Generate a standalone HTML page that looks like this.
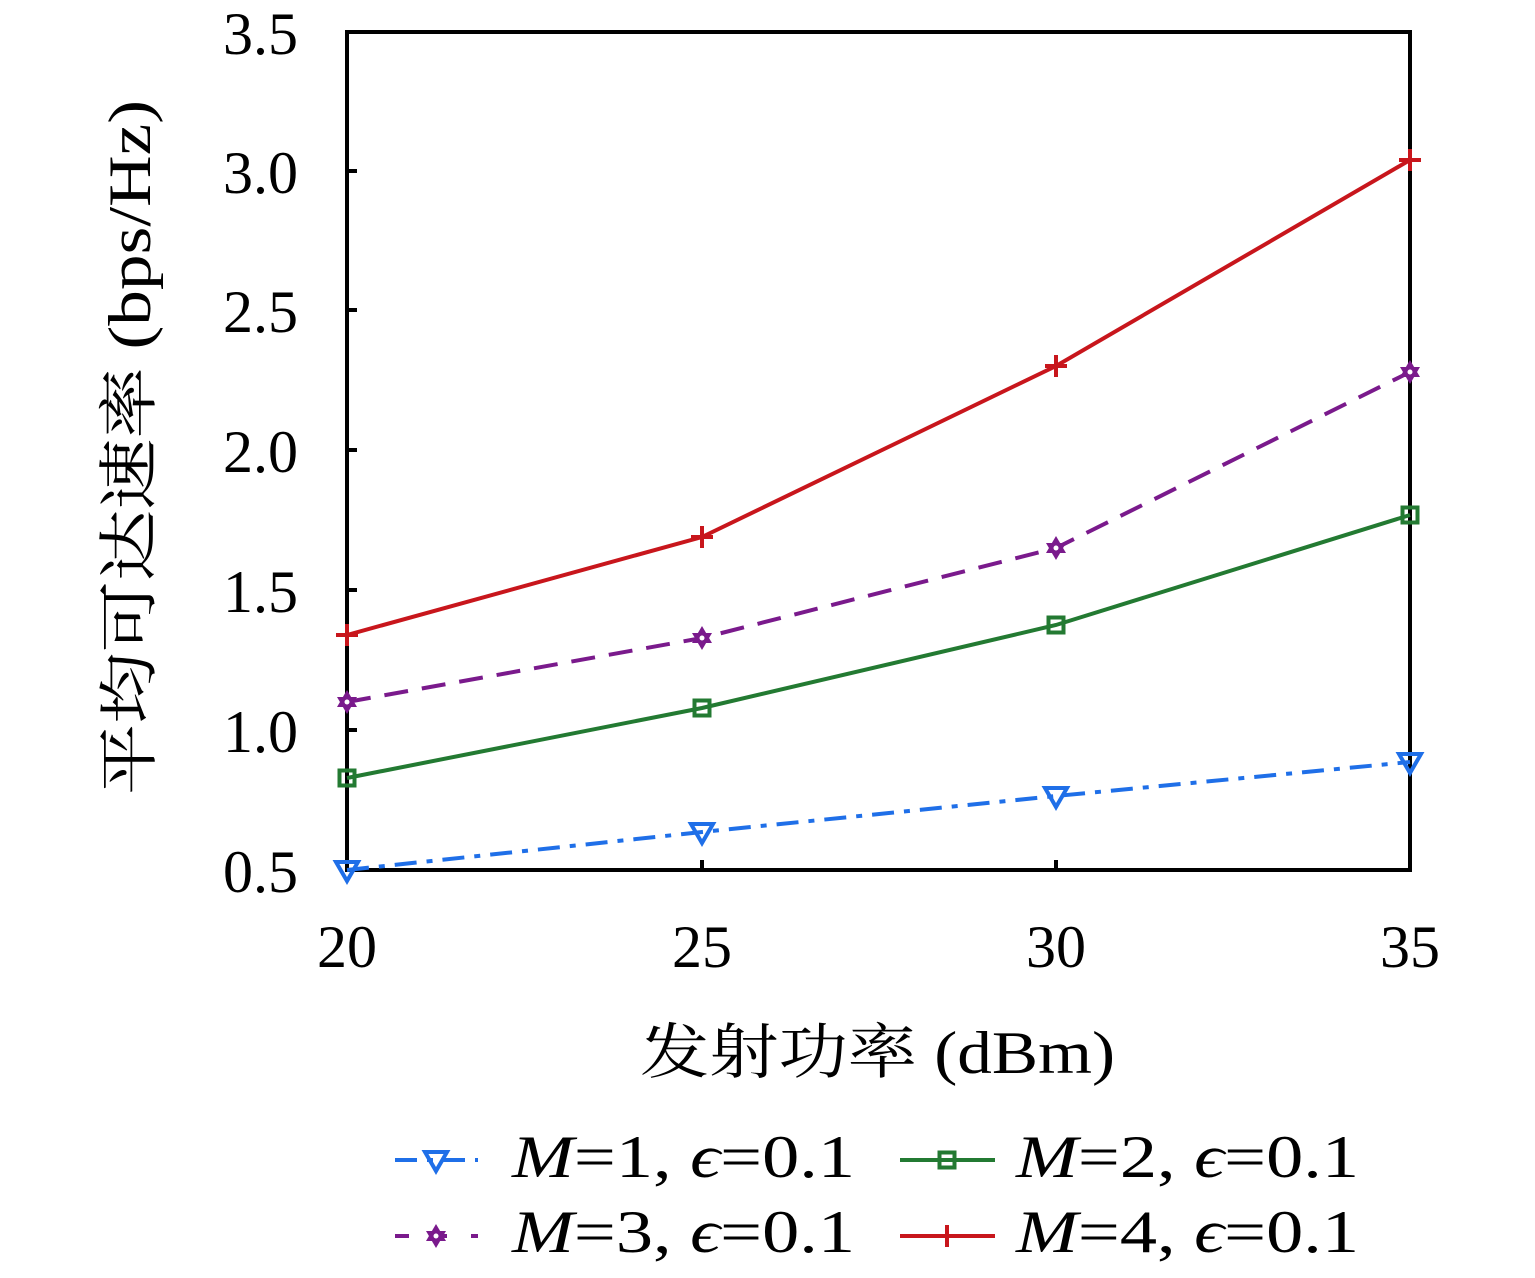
<!DOCTYPE html>
<html><head><meta charset="utf-8"><style>
html,body{margin:0;padding:0;background:#fff;}
svg text{font-family:"Liberation Serif","Noto Serif CJK SC",serif;fill:#000;}
</style></head><body>
<svg width="1535" height="1273" viewBox="0 0 1535 1273" xmlns="http://www.w3.org/2000/svg">
<defs>
<g id="tri"><polygon points="-11,-8 11,-8 0,11" fill="none" stroke="#1f6fe8" stroke-width="4"/></g>
<g id="sq"><rect x="-7.5" y="-7.5" width="15" height="15" fill="none" stroke="#237a32" stroke-width="4"/></g>
<g id="hex"><polygon points="0,-12 10,5 -10,5" fill="#7a1a8c"/><polygon points="0,12 10,-5 -10,-5" fill="#7a1a8c"/><circle r="2.5" fill="#fff"/></g>
<g id="plus"><path d="M-11,0H11M0,-11V11" stroke="#c8161c" stroke-width="4"/></g>
</defs>
<!-- frame -->
<rect x="347" y="32" width="1063" height="838" fill="none" stroke="#000" stroke-width="4"/>
<!-- ticks -->
<g stroke="#000" stroke-width="4">
<path d="M347,171h10M347,310h10M347,450h10M347,590h10M347,730h10"/>
<path d="M702,870v-10M1056,870v-10"/>
</g>
<!-- series -->
<polyline points="347,870 702,832 1056,796 1410,762" fill="none" stroke="#1f6fe8" stroke-width="4" stroke-dasharray="22,10,6,10"/>
<polyline points="347,778 702,708 1056,625 1410,515" fill="none" stroke="#237a32" stroke-width="4"/>
<polyline points="347,702 702,638 1056,548 1410,372" fill="none" stroke="#7a1a8c" stroke-width="4" stroke-dasharray="24,14"/>
<polyline points="347,635 702,537 1056,366 1410,160" fill="none" stroke="#c8161c" stroke-width="4"/>
<use href="#tri" x="347" y="870"/><use href="#tri" x="702" y="832"/><use href="#tri" x="1056" y="796"/><use href="#tri" x="1410" y="762"/>
<use href="#sq" x="347" y="778"/><use href="#sq" x="702" y="708"/><use href="#sq" x="1056" y="625"/><use href="#sq" x="1410" y="515"/>
<use href="#hex" x="347" y="702"/><use href="#hex" x="702" y="638"/><use href="#hex" x="1056" y="548"/><use href="#hex" x="1410" y="372"/>
<use href="#plus" x="347" y="635"/><use href="#plus" x="702" y="537"/><use href="#plus" x="1056" y="366"/><use href="#plus" x="1410" y="160"/>
<!-- y tick labels -->
<g font-size="60" text-anchor="end">
<text x="298" y="54">3.5</text>
<text x="298" y="193">3.0</text>
<text x="298" y="332">2.5</text>
<text x="298" y="472">2.0</text>
<text x="298" y="612">1.5</text>
<text x="298" y="752">1.0</text>
<text x="298" y="892">0.5</text>
</g>
<g font-size="60" text-anchor="middle">
<text x="347" y="967">20</text>
<text x="702" y="967">25</text>
<text x="1056" y="967">30</text>
<text x="1410" y="967">35</text>
</g>
<text x="640" y="1073" font-size="60" textLength="475" lengthAdjust="spacingAndGlyphs">发射功率 (dBm)</text>
<text transform="translate(150,795) rotate(-90)" font-size="60" textLength="695" lengthAdjust="spacingAndGlyphs">平均可达速率 (bps/Hz)</text>
<!-- legend -->
<line x1="395" y1="1160" x2="478" y2="1160" stroke="#1f6fe8" stroke-width="4" stroke-dasharray="22,10,6,10"/>
<use href="#tri" x="436" y="1160"/>
<line x1="395" y1="1236" x2="478" y2="1236" stroke="#7a1a8c" stroke-width="4" stroke-dasharray="14,24"/>
<use href="#hex" x="436" y="1236"/>
<line x1="900" y1="1160" x2="995" y2="1160" stroke="#237a32" stroke-width="4"/>
<use href="#sq" x="947" y="1160"/>
<line x1="900" y1="1236" x2="995" y2="1236" stroke="#c8161c" stroke-width="4"/>
<use href="#plus" x="947" y="1236"/>
<g font-size="60">
<text x="512" y="1177" textLength="343" lengthAdjust="spacingAndGlyphs"><tspan font-style="italic">M</tspan>=1, <tspan font-style="italic">ϵ</tspan>=0.1</text>
<text x="512" y="1252" textLength="343" lengthAdjust="spacingAndGlyphs"><tspan font-style="italic">M</tspan>=3, <tspan font-style="italic">ϵ</tspan>=0.1</text>
<text x="1016" y="1177" textLength="343" lengthAdjust="spacingAndGlyphs"><tspan font-style="italic">M</tspan>=2, <tspan font-style="italic">ϵ</tspan>=0.1</text>
<text x="1016" y="1252" textLength="343" lengthAdjust="spacingAndGlyphs"><tspan font-style="italic">M</tspan>=4, <tspan font-style="italic">ϵ</tspan>=0.1</text>
</g>
</svg>
</body></html>
